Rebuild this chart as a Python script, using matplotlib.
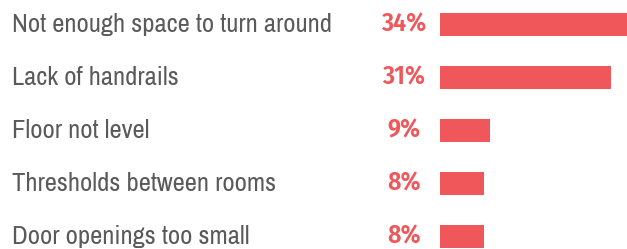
import matplotlib
matplotlib.use("Agg")
import matplotlib.pyplot as plt
import matplotlib.transforms as mtransforms

categories = ["Not enough space to turn around", "Lack of handrails", "Floor not level",
              "Thresholds between rooms", "Door openings too small"]
values = [34, 31, 9, 8, 8]
value_labels = ["34%", "31%", "9%", "8%", "8%"]

bar_color = "#ef575b"
text_color = "#5a5a5a"

label_fonts = ["Archivo Narrow", "Liberation Sans Narrow", "DejaVu Sans"]
pct_fonts = ["Fira Sans Condensed", "Liberation Sans Narrow", "DejaVu Sans"]

W, H = 627, 249
fig = plt.figure(figsize=(W / 100, H / 100), dpi=100)
ax = fig.add_axes([440 / W, 0, 187 / W, 1])

y = list(range(len(categories)))
ax.barh(y, values, height=0.434, color=bar_color, left=0)
ax.set_xlim(0, 34)
ax.set_ylim((H - 24.5) / 53, -24.5 / 53)
ax.axis("off")

# category names on the left, percentages centred in the gap before the bars
trans = mtransforms.blended_transform_factory(fig.transFigure, ax.transData)
for i, (cat, lab) in enumerate(zip(categories, value_labels)):
    ax.text(12 / W, i, cat, transform=trans, ha="left", va="center",
            fontsize=19.2, color=text_color, family=label_fonts, clip_on=False)
    ax.text(404 / W, i, lab, transform=trans, ha="center", va="center",
            fontsize=18.5, color=bar_color, family=pct_fonts, fontweight="semibold", clip_on=False)

fig.savefig("out.png", dpi=100)
